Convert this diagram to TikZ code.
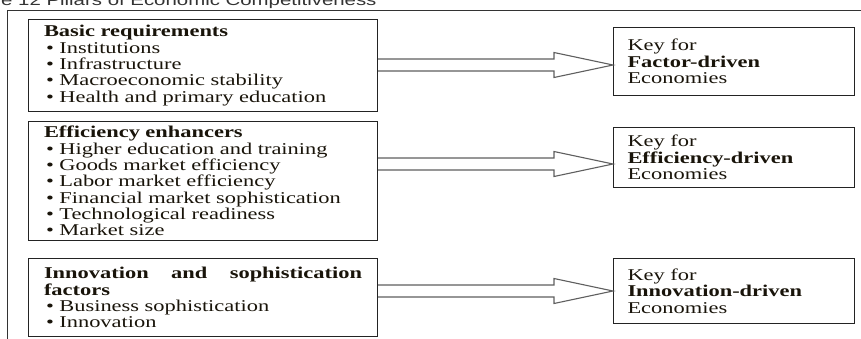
\documentclass[tikz,border=0pt]{standalone}
\usepackage{fontspec}
\setmainfont{Liberation Serif}[FakeStretch=1.36]
\newfontfamily\captionfont{Liberation Sans}[FakeStretch=1.36]
\usepackage{xcolor}
\usepackage{tikz}
\usetikzlibrary{calc}
\definecolor{pillarFrame}{RGB}{35, 35, 35}
\definecolor{pillarArrow}{RGB}{95, 95, 95}
\definecolor{pillarText}{RGB}{25, 20, 10}
\tikzset{
    base/.style={
        font=\fontsize{16.5}{16.3}\selectfont,
        text=pillarText,
        align=left,
        inner ysep=0pt
    },
    pillar/.style={
        base,
        rectangle,
        draw=pillarFrame,
        line width=1pt,
        anchor=north west,
        text width=318pt,
        inner xsep=15.5pt,
        minimum width=349pt
    },
    keybox/.style={
        base,
        rectangle,
        draw=pillarFrame,
        line width=1pt,
        anchor=north west,
        text width=213pt,
        inner xsep=14pt,
        minimum width=241pt
    },
    hollow/.style={
        draw=pillarArrow,
        line width=1.1pt,
        line join=miter,
        fill=white
    },
    frame/.style={
        draw=black!80,
        line width=1pt
    }
}
\newcommand{\pillarbullet}{\hspace*{2pt}\textbullet\ }
% hollow block arrow: from node, to node, level
\newcommand{\pillararrow}[3]{%
    \draw[hollow] (#1.east |- 0,#3-6) -- ($(#2.west |- 0,#3-6)+(-59,0)$) -- ++(0,-6.5)
        -- (#2.west |- 0,#3) -- ($(#2.west |- 0,#3+12.5)+(-59,0)$) -- ++(0,-6.5)
        -- (#1.east |- 0,#3+6);
}

\begin{document}
\begin{tikzpicture}[x=1pt, y=-1pt]
    \useasboundingbox (0,0) rectangle (861,338);
    \clip (0,0) rectangle (861,338);

    % Caption and frame
    \node[anchor=base west, inner sep=0pt, font=\captionfont\fontsize{15}{15}\selectfont, text=black!80] (caption) at (1,5) {e 12 Pillars of Economic Competitiveness};
    \draw[frame] (7,345) -- (7,10) -- (870,10);

    % Pillar groups
    \node[pillar, minimum height=92pt] (basic) at (28,19) {
        \textbf{Basic requirements}\\
        \pillarbullet Institutions\\
        \pillarbullet Infrastructure\\
        \pillarbullet Macroeconomic stability\\
        \pillarbullet Health and primary education
    };
    \node[pillar, minimum height=119pt] (efficiency) at (28,121) {
        \textbf{Efficiency enhancers}\\
        \pillarbullet Higher education and training\\
        \pillarbullet Goods market efficiency\\
        \pillarbullet Labor market efficiency\\
        \pillarbullet Financial market sophistication\\
        \pillarbullet Technological readiness\\
        \pillarbullet Market size
    };
    \node[pillar, minimum height=78pt] (innovation) at (28,258) {
        \hbox to 318pt{\textbf{Innovation}\hfill\textbf{and}\hfill\textbf{sophistication}}\\
        \textbf{factors}\\
        \pillarbullet Business sophistication\\
        \pillarbullet Innovation
    };

    % Keys
    \node[keybox, minimum height=68pt] (factorkey) at (613,27) {
        Key for\\
        \textbf{Factor-driven}\\
        Economies
    };
    \node[keybox, minimum height=60pt] (efficiencykey) at (613,127) {
        Key for\\
        \textbf{Efficiency-driven}\\
        Economies
    };
    \node[keybox, minimum height=65pt] (innovationkey) at (613,258) {
        Key for\\
        \textbf{Innovation-driven}\\
        Economies
    };

    % Arrows
    \pillararrow{basic}{factorkey}{65}
    \pillararrow{efficiency}{efficiencykey}{164}
    \pillararrow{innovation}{innovationkey}{291}
\end{tikzpicture}
\end{document}
